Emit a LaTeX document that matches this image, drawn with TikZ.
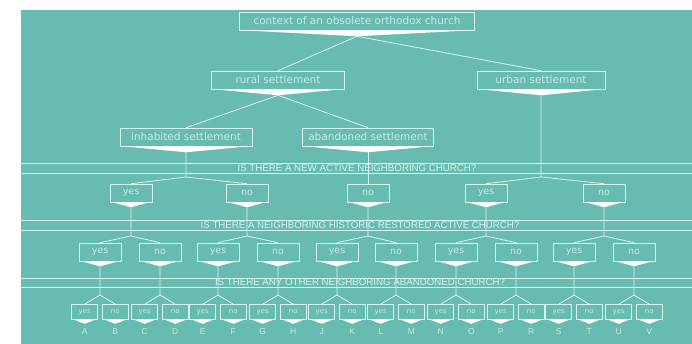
\documentclass[tikz,border=0pt]{standalone}
\usepackage{fontspec}
\setmainfont{Liberation Sans}
\newfontfamily\boxfont{DejaVu Sans}
\usetikzlibrary{calc,positioning}

\definecolor{tealbg}{RGB}{104,187,177}
\definecolor{pale}{RGB}{214,244,240}
\definecolor{dimtext}{RGB}{196,234,229}

\tikzset{
  choice/.style={draw=pale, text=dimtext, line width=0.6pt, inner sep=0pt,
    minimum width=42pt, minimum height=18pt, font=\boxfont\fontsize{9.5}{10}\selectfont},
  bigbox/.style={choice, font=\boxfont\fontsize{10.5}{11}\selectfont},
  leafbox/.style={choice, minimum width=26pt, minimum height=15pt,
    font=\boxfont\fontsize{7}{7}\selectfont},
  link/.style={draw=pale, line width=0.8pt},
  bandline/.style={draw=pale, line width=0.7pt},
  question/.style={text=pale, inner sep=0pt, font=\fontsize{9.7}{10}\selectfont},
  letter/.style={text=dimtext, inner sep=0pt, font=\fontsize{8.5}{9}\selectfont}
}

% white point under a box, and the coordinate at its tip
\newcommand{\tip}[2]{%
  \fill[white] ($(#1.south west)+(3pt,0)$) -- ($(#1.south)+(0,-#2)$)
    -- ($(#1.south east)+(-3pt,0)$) -- cycle;
  \coordinate (#1-tip) at ($(#1.south)+(0,-#2)$);}

\begin{document}
\begin{tikzpicture}[x=1pt,y=-1pt]

    \useasboundingbox (0,0) rectangle (692,344);
    \fill[tealbg] (21,10) rectangle (692,344);

    %draw the question bands
    \draw[bandline] (21,163) -- (692,163);
    \draw[bandline] (21,173) -- (692,173);
    \draw[bandline] (21,220) -- (692,220);
    \draw[bandline] (21,230) -- (692,230);
    \draw[bandline] (21,278) -- (692,278);
    \draw[bandline] (21,287) -- (692,287);
    \node[question] (band1) at (357,168) {IS THERE A NEW ACTIVE NEIGHBORING CHURCH?};
    \node[question] (band2) at (360,225) {IS THERE A NEIGHBORING HISTORIC RESTORED ACTIVE CHURCH?};
    \node[question] (band3) at (360,282) {IS THERE ANY OTHER NEIGHBORING ABANDONED CHURCH?};

    %draw the settlement boxes
    \node[bigbox, minimum width=235pt] (church) at (357,21) {context of an obsolete orthodox church};
    \node[bigbox, minimum width=133pt] (rural) at (278,80) {rural settlement};
    \node[bigbox, minimum width=128pt] (urban) at (541,80) {urban settlement};
    \node[bigbox, minimum width=132pt] (inhab) at (186,137) {inhabited settlement};
    \node[bigbox, minimum width=131pt] (aband) at (368,137) {abandoned settlement};

    %draw the answers to the first two questions
    \foreach \n/\x/\t in {q1a/131/yes, q1b/247/no, q1c/368/no, q1d/486/yes, q1e/604/no}
      \node[choice] (\n) at (\x,193) {\t};
    \foreach \n/\x/\t in {q2a/100/yes, q2b/160/no, q2c/218/yes, q2d/278/no, q2e/337/yes,
                          q2f/396/no, q2g/456/yes, q2h/516/no, q2i/574/yes, q2j/634/no}
      \node[choice] (\n) at (\x,252) {\t};

    \foreach \b in {church,rural,urban,inhab,aband}
      \tip{\b}{6pt};
    \foreach \b in {q1a,q1b,q1c,q1d,q1e,q2a,q2b,q2c,q2d,q2e,q2f,q2g,q2h,q2i,q2j}
      \tip{\b}{5pt};

    %connectors of the upper levels
    \draw[link] (church-tip) -- (rural.north);
    \draw[link] (church-tip) -- (urban.north);
    \draw[link] (rural-tip) -- (inhab.north);
    \draw[link] (rural-tip) -- (aband.north);
    \draw[link] (aband-tip) -- (q1c.north);

    \foreach \p/\a/\b in {inhab/q1a/q1b, urban/q1d/q1e} {
      \coordinate (\p-fork) at (\p |- 0,177);
      \draw[link] (\p-tip) -- (\p-fork) -- (\a.north);
      \draw[link] (\p-fork) -- (\b.north);
    }
    \foreach \p/\a/\b in {q1a/q2a/q2b, q1b/q2c/q2d, q1c/q2e/q2f, q1d/q2g/q2h, q1e/q2i/q2j} {
      \coordinate (\p-fork) at (\p |- 0,236);
      \draw[link] (\p-tip) -- (\p-fork) -- (\a.north);
      \draw[link] (\p-fork) -- (\b.north);
    }

    %leaves with their letters
    \foreach \p/\la/\lb in {q2a/A/B, q2b/C/D, q2c/E/F, q2d/G/H, q2e/J/K,
                            q2f/L/M, q2g/N/O, q2h/P/R, q2i/S/T, q2j/U/V} {
      \coordinate (\p-mid) at (\p |- 0,312);
      \node[leafbox, left=2pt of \p-mid] (\p-y) {yes};
      \node[leafbox, right=2pt of \p-mid] (\p-n) {no};
      \tip{\p-y}{4pt};
      \tip{\p-n}{4pt};
      \coordinate (\p-lfork) at (\p |- 0,295);
      \draw[link] (\p-tip) -- (\p-lfork) -- (\p-y.north);
      \draw[link] (\p-lfork) -- (\p-n.north);
      \node[letter, below=9pt of \p-y.south] (\p-ly) {\la};
      \node[letter, below=9pt of \p-n.south] (\p-ln) {\lb};
    }

\end{tikzpicture}
\end{document}
